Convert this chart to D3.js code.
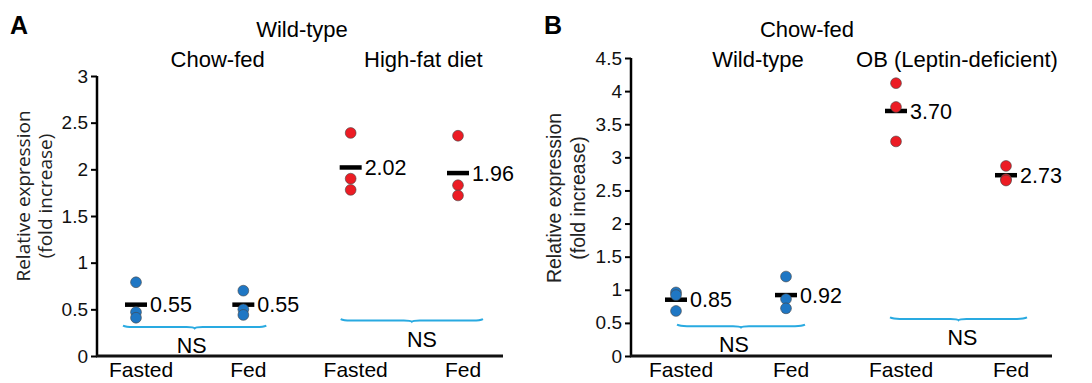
<!DOCTYPE html>
<html>
<head>
<meta charset="utf-8">
<script src="https://cdn.jsdelivr.net/npm/d3@7"></script>
<style>
  body { margin: 0; background: #fff; }
  svg { display: block; font-family: "Liberation Sans", Arial, sans-serif; }
</style>
</head>
<body>
<div id="chart"></div>
<script>
// Category labels along the x axis (same for both panels)
var conditions = ["Fasted", "Fed", "Fasted", "Fed"];

// Panel A: wild-type mice, chow-fed vs high-fat diet
var groupsA = ["Chow-fed", "High-fat diet"];
var pointsA = [
  [0.79, 0.47, 0.41],
  [0.70, 0.50, 0.44],
  [2.39, 1.90, 1.78],
  [2.36, 1.83, 1.72]
];
var meansA = [0.55, 0.55, 2.02, 1.96];
var meanLabelsA = ["0.55", "0.55", "2.02", "1.96"];
var ticksA = [0, 0.5, 1, 1.5, 2, 2.5, 3];
var nsLevelsA = [0.31, 0.38];

// Panel B: chow-fed, wild-type vs OB
var groupsB = ["Wild-type", "OB (Leptin-deficient)"];
var pointsB = [
  [0.96, 0.92, 0.68],
  [1.20, 0.86, 0.72],
  [4.12, 3.76, 3.24],
  [2.87, 2.67, 2.65]
];
var meansB = [0.85, 0.92, 3.70, 2.73];
var meanLabelsB = ["0.85", "0.92", "3.70", "2.73"];
var ticksB = [0, 0.5, 1, 1.5, 2, 2.5, 3, 3.5, 4, 4.5];
var nsLevelsB = [0.45, 0.56];

var dotColors = ["#1f77c4", "#1f77c4", "#ec1c24", "#ec1c24"];
var braceColor = "#29aae1";

var width = 1092;
var height = 383;

var svg = d3.select("#chart")
  .append("svg")
  .attr("width", width)
  .attr("height", height);

svg.append("rect")
  .attr("width", width)
  .attr("height", height)
  .attr("fill", "#fff");

function drawPanel(opt) {
  var g = svg.append("g");

  var y = d3.scaleLinear()
    .domain([0, d3.max(opt.ticks)])
    .range([356, opt.yTop]);

  var x = d3.scalePoint()
    .domain([0, 1, 2, 3])
    .range(opt.xRange);

  // panel letter
  g.append("text")
    .attr("x", opt.letterX)
    .attr("y", 34)
    .attr("font-size", 25)
    .attr("font-weight", "bold")
    .text(opt.letter);

  // titles
  g.append("text")
    .attr("x", opt.titleX)
    .attr("y", 37)
    .attr("text-anchor", "middle")
    .attr("font-size", 22)
    .text(opt.title);

  g.selectAll(".group")
    .data(opt.groups)
    .enter()
    .append("text")
    .attr("x", (d, i) => (x(i * 2) + x(i * 2 + 1)) / 2 + opt.groupShift[i])
    .attr("y", 67)
    .attr("text-anchor", "middle")
    .attr("font-size", 22)
    .text(d => d);

  // y axis
  var yAxis = g.append("g")
    .attr("transform", "translate(" + opt.axisX + ",0)")
    .call(d3.axisLeft(y).tickValues(opt.ticks).tickSize(6).tickPadding(3)
      .tickFormat(d3.format("")));
  yAxis.select(".domain").attr("stroke-width", 2.5).attr("d", "M0," + y(0) + "V" + opt.yTop);
  yAxis.selectAll(".tick line").attr("stroke-width", 2);
  yAxis.selectAll(".tick text")
    .attr("font-size", 19)
    .attr("font-family", "Liberation Sans, Arial, sans-serif")
    .attr("fill", "#111");

  // x axis line
  g.append("line")
    .attr("x1", opt.axisX - 1)
    .attr("x2", opt.axisEnd)
    .attr("y1", y(0))
    .attr("y2", y(0))
    .attr("stroke", "#111")
    .attr("stroke-width", 3);

  g.selectAll(".cond")
    .data(conditions)
    .enter()
    .append("text")
    .attr("x", (d, i) => x(i) + 5)
    .attr("y", 377)
    .attr("text-anchor", "middle")
    .attr("font-size", 21)
    .text(d => d);

  // y label
  var yl = g.append("text")
    .attr("transform", "rotate(-90)")
    .attr("text-anchor", "middle")
    .attr("font-family", opt.labelFont)
    .attr("font-size", opt.labelSize)
    .attr("fill", "#222");
  yl.append("tspan")
    .attr("x", -opt.labelY)
    .attr("y", opt.labelX[0])
    .text("Relative expression");
  yl.append("tspan")
    .attr("x", -opt.labelY)
    .attr("y", opt.labelX[1])
    .text("(fold increase)");

  // mean bars
  g.selectAll(".mean")
    .data(opt.means)
    .enter()
    .append("rect")
    .attr("x", (d, i) => x(i) - 11)
    .attr("y", d => y(d) - 2.25)
    .attr("width", 22)
    .attr("height", 4.5)
    .attr("fill", "#000");

  // points
  opt.points.forEach(function(vals, i) {
    g.selectAll(".pt" + i)
      .data(vals)
      .enter()
      .append("circle")
      .attr("cx", x(i))
      .attr("cy", d => y(d))
      .attr("r", 5.4)
      .attr("fill", dotColors[i])
      .attr("stroke", "#444")
      .attr("stroke-width", 0.6);
  });

  // mean labels
  g.selectAll(".meanlab")
    .data(opt.meanLabels)
    .enter()
    .append("text")
    .attr("x", (d, i) => x(i) + 14)
    .attr("y", (d, i) => y(opt.means[i]))
    .attr("dy", "0.36em")
    .attr("font-size", 21.5)
    .text(d => d);

  // NS braces
  opt.ns.forEach(function(level, k) {
    var x1 = x(k * 2) + opt.braceOff[k][0];
    var x2 = x(k * 2 + 1) + opt.braceOff[k][1];
    var yy = y(level);
    var mid = (x1 + x2) / 2;
    var p = d3.path();
    p.moveTo(x1, yy - 1.5);
    p.quadraticCurveTo(x1 + 3, yy, x1 + 10, yy);
    p.lineTo(mid - 8, yy);
    p.quadraticCurveTo(mid - 1, yy, mid, yy + 1.2);
    p.quadraticCurveTo(mid + 1, yy, mid + 8, yy);
    p.lineTo(x2 - 10, yy);
    p.quadraticCurveTo(x2 - 3, yy, x2, yy - 1.5);
    g.append("path")
      .attr("d", p.toString())
      .attr("fill", "none")
      .attr("stroke", braceColor)
      .attr("stroke-width", 2);

    g.append("text")
      .attr("x", mid + opt.nsShift[k])
      .attr("y", yy + 26)
      .attr("text-anchor", "middle")
      .attr("font-size", 21.5)
      .text("NS");
  });
}

drawPanel({
  letter: "A", letterX: 10,
  title: "Wild-type", titleX: 302,
  groups: groupsA, groupShift: [28, 19],
  points: pointsA, means: meansA, meanLabels: meanLabelsA,
  ticks: ticksA, ns: nsLevelsA,
  yTop: 76, xRange: [136, 458],
  axisX: 97, axisEnd: 503,
  labelFont: "Open Sans, sans-serif", labelSize: 19,
  labelX: [30, 52], labelY: 196,
  braceOff: [[-13, 23], [-10, 25]], nsShift: [-3, 10]
});

drawPanel({
  letter: "B", letterX: 544,
  title: "Chow-fed", titleX: 807,
  groups: groupsB, groupShift: [27, 6],
  points: pointsB, means: meansB, meanLabels: meanLabelsB,
  ticks: ticksB, ns: nsLevelsB,
  yTop: 58, xRange: [676, 1006],
  axisX: 631, axisEnd: 1052,
  labelFont: "Liberation Sans, Arial, sans-serif", labelSize: 19.5,
  labelX: [561, 585], labelY: 198,
  braceOff: [[1, 19], [-6, 21]], nsShift: [-7, 4]
});
</script>
</body>
</html>
